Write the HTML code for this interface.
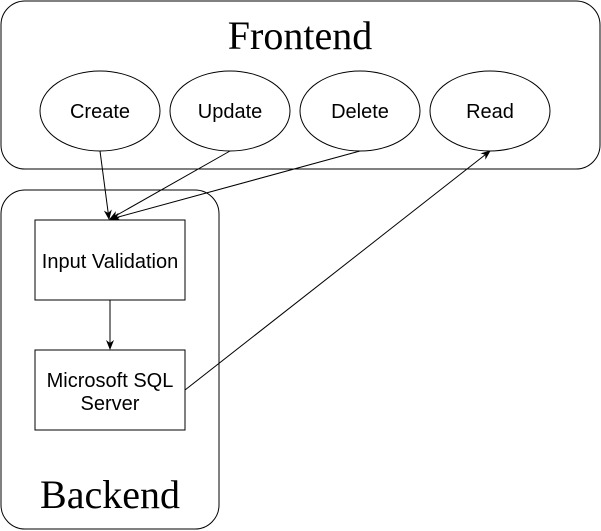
<!DOCTYPE html>
<html><head><style>body{margin:0;background:#fff}svg{display:block}</style></head><body>
<svg width="601" height="531" xmlns="http://www.w3.org/2000/svg" font-family="Liberation Sans, sans-serif">
<defs><marker id="a" markerWidth="10" markerHeight="10" refX="9" refY="5" orient="auto" markerUnits="userSpaceOnUse"><path d="M0,1 L10,5 L0,9 L3,5 Z" fill="#000"/></marker></defs>
<rect x="1" y="1" width="599" height="168" rx="24" fill="#fff" stroke="#000"/>
<text x="300" y="49" font-family="Liberation Serif, serif" font-size="40" text-anchor="middle">Frontend</text>
<rect x="1" y="190" width="218" height="339" rx="24" fill="#fff" stroke="#000"/>
<text x="110" y="508" font-family="Liberation Serif, serif" font-size="40" text-anchor="middle">Backend</text>
<g fill="#fff" stroke="#000">
<ellipse cx="100" cy="111" rx="60" ry="40"/><ellipse cx="230" cy="111" rx="60" ry="40"/><ellipse cx="360" cy="111" rx="60" ry="40"/><ellipse cx="490" cy="111" rx="60" ry="40"/>
<rect x="35" y="220" width="150" height="80"/><rect x="35" y="350" width="150" height="80"/>
</g>
<g font-size="20" text-anchor="middle">
<text x="100" y="118">Create</text><text x="230" y="118">Update</text><text x="360" y="118">Delete</text><text x="490" y="118">Read</text>
<text x="110" y="268">Input Validation</text><text x="110" y="387">Microsoft SQL</text><text x="110" y="410">Server</text>
</g>
<g stroke="#000" fill="none" marker-end="url(#a)">
<line x1="100" y1="151" x2="109" y2="219"/><line x1="230" y1="151" x2="110" y2="219"/><line x1="360" y1="151" x2="111" y2="219"/>
<line x1="110" y1="300" x2="110" y2="349"/><line x1="185" y1="390" x2="490" y2="151"/>
</g>
</svg>
</body></html>
